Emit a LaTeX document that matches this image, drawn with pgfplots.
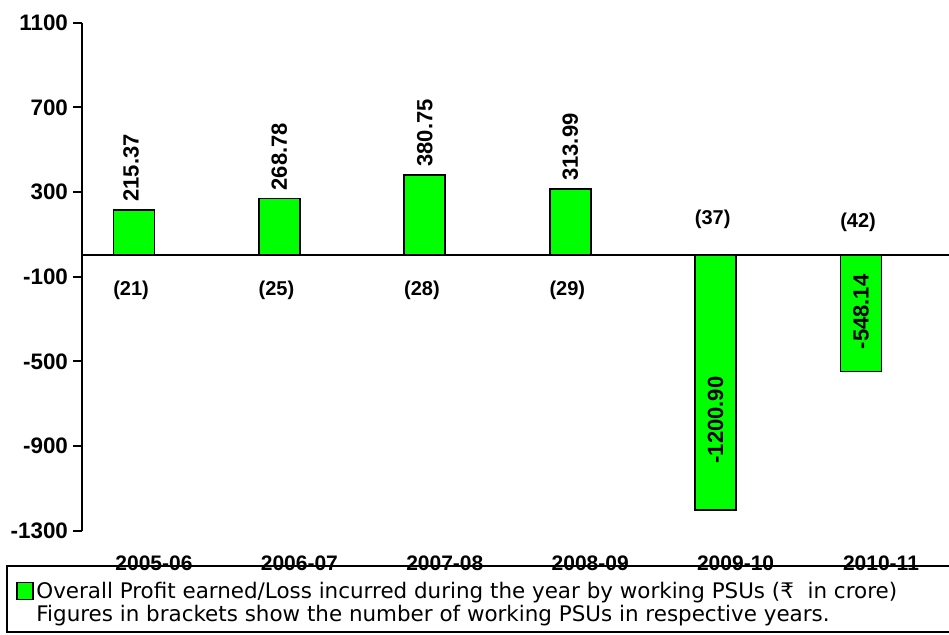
\documentclass[border=0pt]{standalone}
\usepackage{fontspec}
\setmainfont{Liberation Sans}
\newfontfamily\legfont{DejaVu Sans}
\usepackage{pgfplots}
\pgfplotsset{compat=1.18}
\definecolor{barg}{RGB}{0,255,0}
\newcommand{\yl}[1]{{\fontsize{11.2}{13}\selectfont\bfseries #1}}
\begin{document}
\begin{tikzpicture}
\useasboundingbox (-67pt,-189.75pt) rectangle (407.5pt,127.75pt);
\begin{axis}[
  at={(0pt,0pt)}, anchor=origin,
  x=72.7pt, y=0.10585pt,
  xmin=-0.3576, xmax=5.7, ymin=-1300, ymax=1100,
  axis y line*=left,
  axis x line*=bottom,
  x axis line style={draw=none},
  xtick={0.1375,1.1375,2.1375,3.1375,4.1375,5.1375},
  xticklabels={2005-06,2006-07,2007-08,2008-09,2009-10,2010-11},
  xtick style={draw=none},
  xticklabel style={font=\bfseries\fontsize{10.5}{12}\selectfont, yshift=-4.5pt},
  ytick={-1300,-900,-500,-100,300,700,1100},
  yticklabels={\yl{-1300},\yl{-900},\yl{-500},\yl{-100},\yl{300},\yl{700},\yl{1100}},
  y tick label style={xshift=1pt},
  tick align=outside, major tick length=4.5pt,
  ytick style={line width=1pt, black},
  y axis line style={line width=1pt, black},
  clip=false,
]
\addplot[ybar, bar width=20.5pt, fill=barg, draw=black, line width=0.9pt]
  coordinates {(0,215.37)(1,268.78)(2,380.75)(3,313.99)(4,-1200.90)(5,-548.14)};
\draw[line width=1pt] (axis cs:-0.3576,0) -- (axis cs:5.7,0);
% value labels
\node[rotate=90, anchor=west, inner sep=0pt, font=\bfseries\fontsize{11}{13}\selectfont] at (axis cs:-0.02,253) {215.37};
\node[rotate=90, anchor=west, inner sep=0pt, font=\bfseries\fontsize{11}{13}\selectfont] at (axis cs:1,306) {268.78};
\node[rotate=90, anchor=west, inner sep=0pt, font=\bfseries\fontsize{11}{13}\selectfont] at (axis cs:2,418) {380.75};
\node[rotate=90, anchor=west, inner sep=0pt, font=\bfseries\fontsize{11}{13}\selectfont] at (axis cs:3,351) {313.99};
\node[rotate=90, anchor=center, inner sep=0pt, font=\bfseries\fontsize{11}{13}\selectfont] at (axis cs:4,-777) {-1200.90};
\node[rotate=90, anchor=center, inner sep=0pt, font=\bfseries\fontsize{11}{13}\selectfont] at (axis cs:5,-267) {-548.14};
% bracket labels
\node[font=\bfseries\fontsize{10}{12}\selectfont] at (axis cs:-0.02,-163) {(21)};
\node[font=\bfseries\fontsize{10}{12}\selectfont] at (axis cs:0.98,-163) {(25)};
\node[font=\bfseries\fontsize{10}{12}\selectfont] at (axis cs:1.98,-163) {(28)};
\node[font=\bfseries\fontsize{10}{12}\selectfont] at (axis cs:2.98,-163) {(29)};
\node[font=\bfseries\fontsize{10}{12}\selectfont] at (axis cs:3.98,172) {(37)};
\node[font=\bfseries\fontsize{10}{12}\selectfont] at (axis cs:4.98,158) {(42)};
\end{axis}
% legend box
\draw[line width=1pt] (-63.5pt,-155.25pt) rectangle (412pt,-188.25pt);
\draw[fill=barg, line width=0.8pt] (-58.5pt,-163.5pt) rectangle (-50.5pt,-172pt);
\node[anchor=base west, inner sep=0pt, font=\legfont\fontsize{10.72}{12}\selectfont] at (-49pt,-171.5pt) {Overall Profit earned/Loss incurred during the year by working PSUs (₹~ in crore)};
\node[anchor=base west, inner sep=0pt, font=\legfont\fontsize{10.72}{12}\selectfont] at (-49pt,-183.25pt) {Figures in brackets show the number of working PSUs in respective years.};
\end{tikzpicture}
\end{document}
